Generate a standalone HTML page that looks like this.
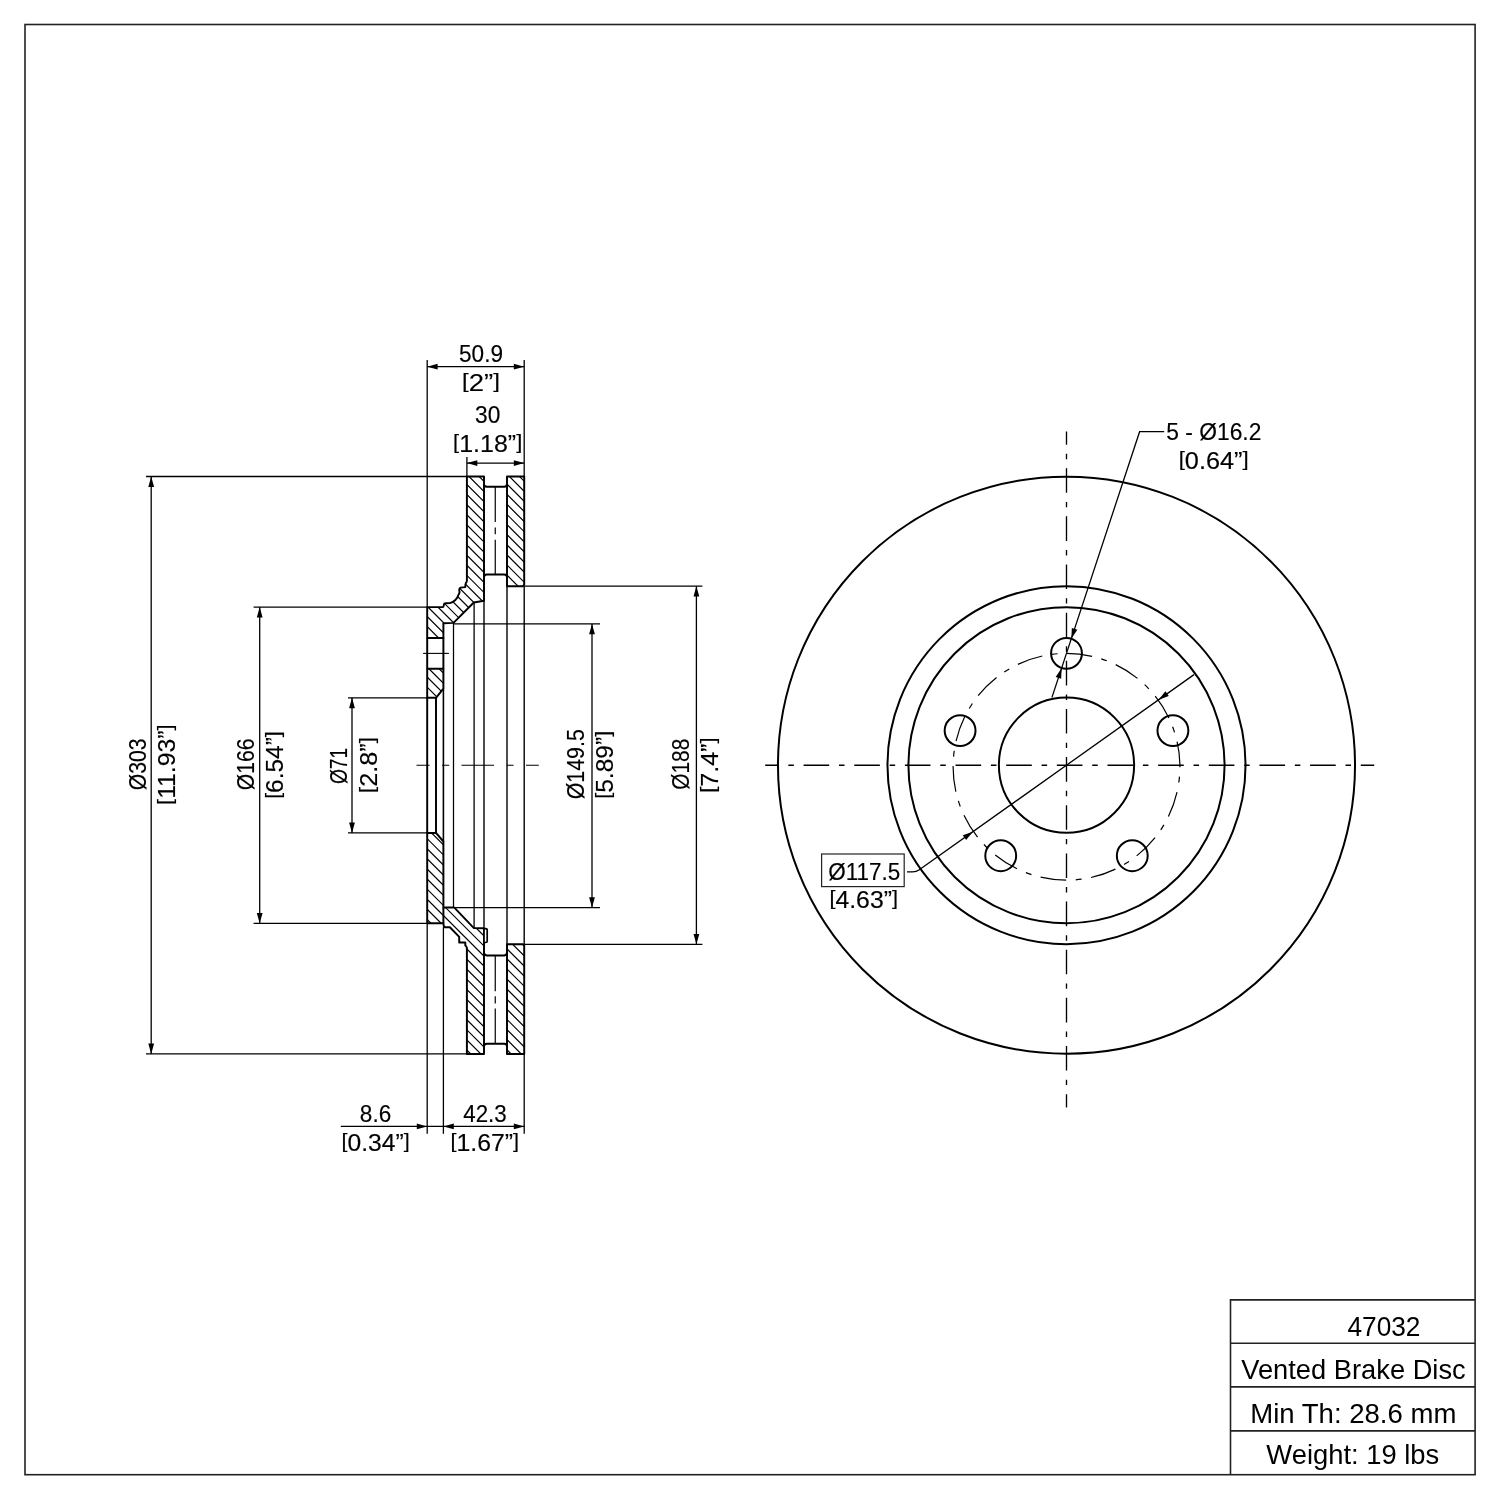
<!DOCTYPE html>
<html lang="en"><head><meta charset="utf-8"><title>47032 Vented Brake Disc</title>
<style>html,body{margin:0;padding:0;background:#fff}svg{display:block;will-change:transform}</style></head>
<body>
<svg width="1500" height="1500" viewBox="0 0 1500 1500">
<rect x="0" y="0" width="1500" height="1500" fill="#fff"/>
<g stroke="#000" fill="none" stroke-linecap="butt" font-family="'Liberation Sans', sans-serif">
<g stroke="#222" stroke-width="1.6">
<rect x="25.0" y="24.5" width="1450.1" height="1450.2"/>
<path d="M1475.1 1299.9H1230.5V1474.7M1230.5 1343.3H1475.1M1230.5 1386.9H1475.1M1230.5 1430.9H1475.1"/>
</g>
<defs><clipPath id="mat">
<path d="M427.2 638 V607.1 H442.9 Q443.9 606.6 443.8 604.8 Q444 603.3 445.5 603.3 L449.9 603.1 A13 13 0 0 0 458.7 594.3 Q459.9 592.8 459.4 591 Q458.8 588.3 460.5 587.6 L465.3 587.1 Q465.3 584 466 582.8 Q466.9 582 466.9 580.5 V476.5 H484.0 V600.8 L473.8 602.5 L453.5 622.9 L443.4 623.2 V638 Z"/>
<path d="M427.2 668.7 H443.4 V688.7 L436.0 697.8 H427.2 Z"/>
<path d="M507.0 476.5 H524.2 V584.7 L523 586.2 H507.0 Z"/>
<path d="M427.2 832.9 H436.0 L443.4 841.5 V907.4 H454.1 L473.9 928.1 L484.0 928.3 V1053.9 H466.9 V948.1 Q466.6 946.3 465.3 945.5 V942.5 H459.2 V936.9 L449.9 927.3 H444 L443.4 923.3 H427.2 Z"/>
<path d="M507.0 944.3 H523 L524.2 945.5 V1053.9 H507.0 Z"/>
</clipPath></defs>
<g clip-path="url(#mat)" stroke-width="1.2">
<path d="M420 356.80L530 466.80M420 366.90L530 476.90M420 377.00L530 487.00M420 387.10L530 497.10M420 397.20L530 507.20M420 407.30L530 517.30M420 417.40L530 527.40M420 427.50L530 537.50M420 437.60L530 547.60M420 447.70L530 557.70M420 457.80L530 567.80M420 467.90L530 577.90M420 478.00L530 588.00M420 488.10L530 598.10M420 498.20L530 608.20M420 508.30L530 618.30M420 518.40L530 628.40M420 528.50L530 638.50M420 538.60L530 648.60M420 548.70L530 658.70M420 558.80L530 668.80M420 568.90L530 678.90M420 579.00L530 689.00M420 589.10L530 699.10M420 599.20L530 709.20M420 609.30L530 719.30M420 619.40L530 729.40M420 629.50L530 739.50M420 639.60L530 749.60M420 649.70L530 759.70M420 659.80L530 769.80M420 669.90L530 779.90M420 680.00L530 790.00M420 690.10L530 800.10M420 700.20L530 810.20M420 710.30L530 820.30M420 720.40L530 830.40M420 730.50L530 840.50M420 740.60L530 850.60M420 750.70L530 860.70M420 760.80L530 870.80M420 770.90L530 880.90M420 781.00L530 891.00M420 791.10L530 901.10M420 801.20L530 911.20M420 811.30L530 921.30M420 821.40L530 931.40M420 831.50L530 941.50M420 841.60L530 951.60M420 851.70L530 961.70M420 861.80L530 971.80M420 871.90L530 981.90M420 882.00L530 992.00M420 892.10L530 1002.10M420 902.20L530 1012.20M420 912.30L530 1022.30M420 922.40L530 1032.40M420 932.50L530 1042.50M420 942.60L530 1052.60M420 952.70L530 1062.70M420 962.80L530 1072.80M420 972.90L530 1082.90M420 983.00L530 1093.00M420 993.10L530 1103.10M420 1003.20L530 1113.20M420 1013.30L530 1123.30M420 1023.40L530 1133.40M420 1033.50L530 1143.50M420 1043.60L530 1153.60M420 1053.70L530 1163.70M420 1063.80L530 1173.80"/>
</g>
<line x1="453.50" y1="623.00" x2="453.50" y2="907.40" stroke-width="1.25" />
<line x1="474.10" y1="602.00" x2="474.10" y2="928.10" stroke-width="1.3" />
<line x1="484.00" y1="601.00" x2="484.00" y2="928.30" stroke-width="1.4" />
<line x1="507.00" y1="586.20" x2="507.00" y2="944.30" stroke-width="1.4" />
<line x1="524.20" y1="586.20" x2="524.20" y2="944.30" stroke-width="1.4" />
<line x1="443.40" y1="688.70" x2="443.40" y2="841.50" stroke-width="1.6" />
<path d="M427.2 638 V607.1 H442.9 Q443.9 606.6 443.8 604.8 Q444 603.3 445.5 603.3 L449.9 603.1 A13 13 0 0 0 458.7 594.3 Q459.9 592.8 459.4 591 Q458.8 588.3 460.5 587.6 L465.3 587.1 Q465.3 584 466 582.8 Q466.9 582 466.9 580.5 V476.5 H484.0 V600.8 L473.8 602.5 L453.5 622.9 L443.4 623.2 V638 Z" stroke-width="1.95" fill="none" stroke-linejoin="round"/>
<path d="M427.2 668.7 H443.4 V688.7 L436.0 697.8 H427.2 Z" stroke-width="1.95" fill="none" stroke-linejoin="round"/>
<path d="M507.0 476.5 H524.2 V584.7 L523 586.2 H507.0 Z" stroke-width="1.95" fill="none" stroke-linejoin="round"/>
<path d="M427.2 832.9 H436.0 L443.4 841.5 V907.4 H454.1 L473.9 928.1 L484.0 928.3 V1053.9 H466.9 V948.1 Q466.6 946.3 465.3 945.5 V942.5 H459.2 V936.9 L449.9 927.3 H444 L443.4 923.3 H427.2 Z" stroke-width="1.95" fill="none" stroke-linejoin="round"/>
<path d="M507.0 944.3 H523 L524.2 945.5 V1053.9 H507.0 Z" stroke-width="1.95" fill="none" stroke-linejoin="round"/>
<path d="M427.2 638 V668.7 M443.4 638 V668.7 M427.2 697.8 V832.9 M436.0 697.8 V832.9" stroke-width="1.95" fill="none"/>
<path d="M443.4 907.4 V923.3" stroke-width="1.95" fill="none"/>
<path d="M484.0 483.9 Q484.0 486.7 486.8 486.7 H504.2 Q507.0 486.7 507.0 483.9" stroke-width="1.95" fill="none"/>
<path d="M484.0 577.3 Q484.0 574.5 486.8 574.5 H504.2 Q507.0 574.5 507.0 577.3" stroke-width="1.95" fill="none"/>
<path d="M484.0 952.6 Q484.0 955.4 486.8 955.4 H504.2 Q507.0 955.4 507.0 952.6" stroke-width="1.95" fill="none"/>
<path d="M484.0 1046.6 Q484.0 1043.8 486.8 1043.8 H504.2 Q507.0 1043.8 507.0 1046.6" stroke-width="1.95" fill="none"/>
<rect x="484.0" y="928.7" width="3.2" height="13.8" rx="1.3" stroke-width="1.7" fill="#fff"/>
<path d="M495.25 486.7 V521.9 M495.25 527.5 V534.2 M495.25 539.8 V574.5" stroke-width="1.2" fill="none"/>
<path d="M495.25 955.4 V991.3 M495.25 996.2 V1003.6 M495.25 1008.5 V1043.8" stroke-width="1.2" fill="none"/>
<line x1="423.10" y1="653.40" x2="448.90" y2="653.40" stroke-width="1.1" />
<path d="M416.5 765.2 H429.5 M442 765.2 H449.2 M461.5 765.2 H494 M506.8 765.2 H513.6 M526 765.2 H538.8" stroke-width="1.15" fill="none"/>
<line x1="427.20" y1="360.00" x2="427.20" y2="607.10" stroke-width="1.3" />
<line x1="524.20" y1="360.00" x2="524.20" y2="476.50" stroke-width="1.3" />
<line x1="427.20" y1="366.70" x2="524.20" y2="366.70" stroke-width="1.3" />
<polygon points="427.20,366.70 437.60,363.80 437.60,369.60" fill="#000" stroke="none"/>
<polygon points="524.20,366.70 513.80,369.60 513.80,363.80" fill="#000" stroke="none"/>
<line x1="466.90" y1="457.00" x2="466.90" y2="476.50" stroke-width="1.3" />
<line x1="466.90" y1="463.10" x2="524.20" y2="463.10" stroke-width="1.3" />
<polygon points="466.90,463.10 477.30,460.20 477.30,466.00" fill="#000" stroke="none"/>
<polygon points="524.20,463.10 513.80,466.00 513.80,460.20" fill="#000" stroke="none"/>
<line x1="146.00" y1="476.50" x2="466.90" y2="476.50" stroke-width="1.3" />
<line x1="146.00" y1="1053.90" x2="466.90" y2="1053.90" stroke-width="1.3" />
<line x1="151.20" y1="476.50" x2="151.20" y2="1053.90" stroke-width="1.3" />
<polygon points="151.20,476.50 154.10,486.90 148.30,486.90" fill="#000" stroke="none"/>
<polygon points="151.20,1053.90 148.30,1043.50 154.10,1043.50" fill="#000" stroke="none"/>
<line x1="253.60" y1="607.10" x2="427.20" y2="607.10" stroke-width="1.3" />
<line x1="253.60" y1="923.30" x2="427.20" y2="923.30" stroke-width="1.3" />
<line x1="259.70" y1="607.10" x2="259.70" y2="923.30" stroke-width="1.3" />
<polygon points="259.70,607.10 262.60,617.50 256.80,617.50" fill="#000" stroke="none"/>
<polygon points="259.70,923.30 256.80,912.90 262.60,912.90" fill="#000" stroke="none"/>
<line x1="348.00" y1="697.80" x2="427.20" y2="697.80" stroke-width="1.3" />
<line x1="348.00" y1="832.90" x2="427.20" y2="832.90" stroke-width="1.3" />
<line x1="352.00" y1="697.80" x2="352.00" y2="832.90" stroke-width="1.3" />
<polygon points="352.00,697.80 354.90,708.20 349.10,708.20" fill="#000" stroke="none"/>
<polygon points="352.00,832.90 349.10,822.50 354.90,822.50" fill="#000" stroke="none"/>
<line x1="453.50" y1="623.90" x2="600.00" y2="623.90" stroke-width="1.3" />
<line x1="454.10" y1="907.60" x2="600.00" y2="907.60" stroke-width="1.3" />
<line x1="592.00" y1="623.90" x2="592.00" y2="907.60" stroke-width="1.3" />
<polygon points="592.00,623.90 594.90,634.30 589.10,634.30" fill="#000" stroke="none"/>
<polygon points="592.00,907.60 589.10,897.20 594.90,897.20" fill="#000" stroke="none"/>
<line x1="524.20" y1="586.20" x2="702.40" y2="586.20" stroke-width="1.3" />
<line x1="524.20" y1="944.30" x2="702.40" y2="944.30" stroke-width="1.3" />
<line x1="696.40" y1="586.20" x2="696.40" y2="944.30" stroke-width="1.3" />
<polygon points="696.40,586.20 699.30,596.60 693.50,596.60" fill="#000" stroke="none"/>
<polygon points="696.40,944.30 693.50,933.90 699.30,933.90" fill="#000" stroke="none"/>
<line x1="427.20" y1="923.30" x2="427.20" y2="1133.80" stroke-width="1.3" />
<line x1="443.40" y1="927.30" x2="443.40" y2="1133.80" stroke-width="1.3" />
<line x1="524.20" y1="1053.90" x2="524.20" y2="1133.80" stroke-width="1.3" />
<line x1="340.80" y1="1126.40" x2="524.20" y2="1126.40" stroke-width="1.3" />
<polygon points="427.20,1126.40 416.80,1129.30 416.80,1123.50" fill="#000" stroke="none"/>
<polygon points="443.40,1126.40 453.80,1123.50 453.80,1129.30" fill="#000" stroke="none"/>
<polygon points="524.20,1126.40 513.80,1129.30 513.80,1123.50" fill="#000" stroke="none"/>
<circle cx="1066.5" cy="765.2" r="288.53" stroke-width="2.0"/>
<circle cx="1066.5" cy="765.2" r="179.02" stroke-width="2.0"/>
<circle cx="1066.5" cy="765.2" r="158.07" stroke-width="2.0"/>
<circle cx="1066.5" cy="765.2" r="67.61" stroke-width="2.0"/>
<line x1="765.2" y1="765.2" x2="1374.2" y2="765.2" stroke-width="1.35" stroke-dasharray="25.6 9.8 5.5 9.75" stroke-dashoffset="12.25"/>
<line x1="1066.5" y1="431.6" x2="1066.5" y2="1107.4" stroke-width="1.35" stroke-dasharray="24.6 9.1 5.4 9.05" stroke-dashoffset="11.55"/>
<circle cx="1066.5" cy="766.8" r="113.4" transform="rotate(-90 1066.5 766.8)" stroke-width="1.2" stroke-dasharray="25.80 9.52 5.85 9.72"/>
<circle cx="1066.50" cy="653.31" r="15.43" stroke-width="2.0"/>
<circle cx="1172.91" cy="730.62" r="15.43" stroke-width="2.0"/>
<circle cx="1132.27" cy="855.72" r="15.43" stroke-width="2.0"/>
<circle cx="1000.73" cy="855.72" r="15.43" stroke-width="2.0"/>
<circle cx="960.09" cy="730.62" r="15.43" stroke-width="2.0"/>
<path d="M907 871.8 H912.50 Q916.50 871.8 918.94 870.06 L1193.99 674.60" stroke-width="1.3" fill="none"/>
<polygon points="1158.61,699.74 1165.41,691.35 1168.77,696.08" fill="#000" stroke="none"/>
<polygon points="972.92,831.70 966.13,840.09 962.77,835.36" fill="#000" stroke="none"/>
<rect x="821.6" y="854" width="82.6" height="32.6" stroke="#222" stroke-width="1.2"/>
<path d="M1164.2 431.7 H1139.6 L1071.33 638.66" stroke-width="1.3" fill="none"/>
<polygon points="1071.33,638.66 1071.84,627.88 1077.34,629.69" fill="#000" stroke="none"/>
<line x1="1071.33" y1="638.66" x2="1051.96" y2="697.40" stroke-width="1.3" />
<polygon points="1061.67,667.96 1061.16,678.75 1055.66,676.93" fill="#000" stroke="none"/>
<g fill="#000" stroke="#000" stroke-width="0.15" stroke-linejoin="round">
<text transform="translate(459.03 362.00) scale(0.9655 1)" font-size="23.4">50.9</text>
<text transform="translate(462.04 390.70) scale(1.1761 1)" font-size="23.4"><tspan font-size="20.5" dy="-2.98">[</tspan><tspan dy="2.98">2”</tspan><tspan font-size="20.5" dy="-2.98">]</tspan></text>
<text transform="translate(475.03 423.30) scale(0.9708 1)" font-size="23.4">30</text>
<text transform="translate(453.10 452.00) scale(1.0688 1)" font-size="23.4"><tspan font-size="20.5" dy="-2.98">[</tspan><tspan dy="2.98">1.18”</tspan><tspan font-size="20.5" dy="-2.98">]</tspan></text>
<text transform="translate(359.84 1121.50) scale(0.9639 1)" font-size="23.4">8.6</text>
<text transform="translate(341.42 1150.50) scale(1.0543 1)" font-size="23.4"><tspan font-size="20.5" dy="-2.98">[</tspan><tspan dy="2.98">0.34”</tspan><tspan font-size="20.5" dy="-2.98">]</tspan></text>
<text transform="translate(463.22 1121.50) scale(0.9545 1)" font-size="23.4">42.3</text>
<text transform="translate(450.51 1150.50) scale(1.0607 1)" font-size="23.4"><tspan font-size="20.5" dy="-2.98">[</tspan><tspan dy="2.98">1.67”</tspan><tspan font-size="20.5" dy="-2.98">]</tspan></text>
<text transform="translate(1166.33 439.50) scale(0.9743 1)" font-size="23.4">5 - Ø16.2</text>
<text transform="translate(1178.68 468.50) scale(1.0818 1)" font-size="23.4"><tspan font-size="20.5" dy="-2.98">[</tspan><tspan dy="2.98">0.64”</tspan><tspan font-size="20.5" dy="-2.98">]</tspan></text>
<text transform="translate(828.24 879.80) scale(0.9616 1)" font-size="23.4">Ø117.5</text>
<text transform="translate(829.41 908.20) scale(1.0591 1)" font-size="23.4"><tspan font-size="20.5" dy="-2.98">[</tspan><tspan dy="2.98">4.63”</tspan><tspan font-size="20.5" dy="-2.98">]</tspan></text>
<text transform="translate(146.30 790.20) rotate(-90) scale(0.9050 1)" font-size="23.4">Ø303</text>
<text transform="translate(175.30 804.89) rotate(-90) scale(1.0589 1)" font-size="23.4"><tspan font-size="20.5" dy="-2.98">[</tspan><tspan dy="2.98">11.93”</tspan><tspan font-size="20.5" dy="-2.98">]</tspan></text>
<text transform="translate(254.00 790.20) rotate(-90) scale(0.9050 1)" font-size="23.4">Ø166</text>
<text transform="translate(283.30 798.87) rotate(-90) scale(1.0462 1)" font-size="23.4"><tspan font-size="20.5" dy="-2.98">[</tspan><tspan dy="2.98">6.54”</tspan><tspan font-size="20.5" dy="-2.98">]</tspan></text>
<text transform="translate(347.00 784.12) rotate(-90) scale(0.8238 1)" font-size="23.4">Ø71</text>
<text transform="translate(377.30 792.92) rotate(-90) scale(1.0790 1)" font-size="23.4"><tspan font-size="20.5" dy="-2.98">[</tspan><tspan dy="2.98">2.8”</tspan><tspan font-size="20.5" dy="-2.98">]</tspan></text>
<text transform="translate(584.40 799.32) rotate(-90) scale(0.9151 1)" font-size="23.4">Ø149.5</text>
<text transform="translate(613.20 798.77) rotate(-90) scale(1.0494 1)" font-size="23.4"><tspan font-size="20.5" dy="-2.98">[</tspan><tspan dy="2.98">5.89”</tspan><tspan font-size="20.5" dy="-2.98">]</tspan></text>
<text transform="translate(688.80 789.69) rotate(-90) scale(0.8905 1)" font-size="23.4">Ø188</text>
<text transform="translate(718.20 792.81) rotate(-90) scale(1.0708 1)" font-size="23.4"><tspan font-size="20.5" dy="-2.98">[</tspan><tspan dy="2.98">7.4”</tspan><tspan font-size="20.5" dy="-2.98">]</tspan></text>
</g>
<g fill="#000" stroke="none">
<text transform="translate(1347.41 1336.30) scale(0.9221 1)" font-size="28.5">47032</text>
<text transform="translate(1241.26 1379.10) scale(0.9576 1)" font-size="28.5">Vented Brake Disc</text>
<text transform="translate(1250.22 1422.80) scale(0.9668 1)" font-size="28.5">Min Th: 28.6 mm</text>
<text transform="translate(1266.36 1463.50) scale(0.9600 1)" font-size="28.5">Weight: 19 lbs</text>
</g>
</g></svg>
</body></html>
